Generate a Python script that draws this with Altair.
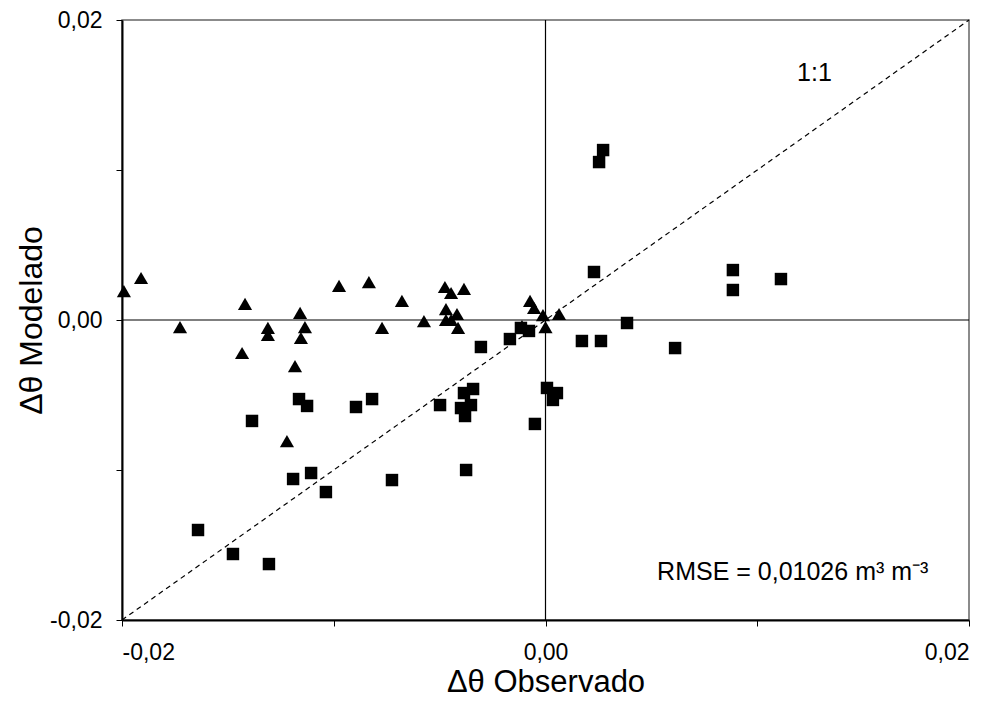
import altair as alt
import pandas as pd

# Triangles series (observed, modelled)
tri_x = [-0.01991, -0.01910, -0.01726, -0.01419, -0.01159, -0.01311, -0.01311, -0.01136,
         -0.01155, -0.01433, -0.01183, -0.01221, -0.00975, -0.00834, -0.00678, -0.00772,
         -0.00574, -0.00475, -0.00446, -0.00385, -0.00470, -0.00470, -0.00446, -0.00418,
         -0.00413, -0.00073, -0.00054, -0.00012, 0.00064, 0.00000, -0.00111]
tri_y = [0.00193, 0.00280, -0.00047, 0.00107, 0.00047, -0.00053, -0.00100, -0.00047,
         -0.00120, -0.00220, -0.00307, -0.00807, 0.00227, 0.00253, 0.00127, -0.00053,
         -0.00007, 0.00220, 0.00180, 0.00207, 0.00073, 0.00000, 0.00000, 0.00040,
         -0.00053, 0.00127, 0.00080, 0.00033, 0.00040, -0.00047, -0.00040]

# Squares series (observed, modelled)
sq_x = [-0.01164, -0.01126, -0.00895, -0.01386, -0.00819, -0.00498, -0.00385, -0.00342,
        -0.00399, -0.00352, -0.00380, -0.00305, -0.00168, -0.00116, -0.00078, 0.00007,
        0.00054, 0.00035, -0.00050, 0.00172, -0.00375, -0.01641, -0.01476, -0.01306,
        -0.01192, -0.01107, -0.01037, 0.00272, 0.00253, 0.00229, 0.00385, 0.00262,
        0.00612, 0.00885, 0.00885, 0.01112, -0.00725]
sq_y = [-0.00527, -0.00573, -0.00580, -0.00673, -0.00527, -0.00567, -0.00487, -0.00460,
        -0.00587, -0.00567, -0.00640, -0.00180, -0.00127, -0.00053, -0.00073, -0.00453,
        -0.00487, -0.00533, -0.00693, -0.00140, -0.01000, -0.01400, -0.01560, -0.01627,
        -0.01060, -0.01020, -0.01147, 0.01133, 0.01053, 0.00320, -0.00020, -0.00140,
        -0.00187, 0.00333, 0.00200, 0.00273, -0.01067]

domain = [-0.02, 0.02]
tick_values = [-0.02, -0.01, 0.0, 0.01, 0.02]
FONT = "Liberation Sans"

tri = pd.DataFrame({"obs": tri_x, "mod": tri_y})
sq = pd.DataFrame({"obs": sq_x, "mod": sq_y})
diag = pd.DataFrame({"obs": domain, "mod": domain})

label_expr = ("abs(round(datum.value*100)) == 1 ? '' : "
              "replace(replace(format(datum.value, '.2f'), '.', ','), '\u2212', '-')")

xs = alt.Scale(domain=domain, nice=False, zero=False)
ys = alt.Scale(domain=domain, nice=False, zero=False)

x_axis = alt.Axis(values=tick_values, labelExpr=label_expr, grid=False,
                  title="Δθ Observado", titleFontSize=31, titleFontWeight="normal",
                  titleY=62, titleBaseline="middle", labelFontSize=23, labelPadding=15,
                  tickSize=6, tickColor="black", domainColor="black", domainWidth=2,
                  labelColor="black", titleColor="black", labelFont=FONT, titleFont=FONT)
y_axis = alt.Axis(values=tick_values, labelExpr=label_expr, grid=False,
                  title="Δθ Modelado", titleFontSize=32, titleFontWeight="normal",
                  titleX=-91, titleY=300, titleBaseline="middle", titleAngle=-90,
                  labelFontSize=23, labelPadding=14,
                  tickSize=6, tickColor="black", domainColor="black", domainWidth=2,
                  labelColor="black", titleColor="black", labelFont=FONT, titleFont=FONT)

base_x = alt.X("obs:Q", scale=xs, axis=x_axis)
base_y = alt.Y("mod:Q", scale=ys, axis=y_axis)

diag_line = alt.Chart(diag).mark_line(color="black", strokeWidth=1.2, strokeDash=[5, 4]).encode(
    x=base_x, y=base_y)

zero_v = alt.Chart(pd.DataFrame({"obs": [0.0]})).mark_rule(color="black", strokeWidth=1.2).encode(
    x=alt.X("obs:Q", scale=xs))
zero_h = alt.Chart(pd.DataFrame({"mod": [0.0]})).mark_rule(color="black", strokeWidth=1.2).encode(
    y=alt.Y("mod:Q", scale=ys))

tri_pts = alt.Chart(tri).mark_point(shape="triangle-up", filled=True, color="black",
                                    size=200, opacity=1).encode(x=base_x, y=base_y)
sq_pts = alt.Chart(sq).mark_point(shape="square", filled=True, color="black",
                                  size=155, opacity=1).encode(x=base_x, y=base_y)

ann = pd.DataFrame({"obs": [0.0127], "mod": [0.0165], "txt": ["1:1"]})
ann_text = alt.Chart(ann).mark_text(font=FONT, fontSize=25, color="black", align="center",
                                    baseline="middle").encode(
    x=alt.X("obs:Q", scale=xs), y=alt.Y("mod:Q", scale=ys), text="txt:N")

rmse = pd.DataFrame({"obs": [0.00527], "mod": [-0.0168], "txt": ["RMSE = 0,01026 m³ m⁻³"]})
rmse_text = alt.Chart(rmse).mark_text(font=FONT, fontSize=25, color="black", align="left",
                                      baseline="middle").encode(
    x=alt.X("obs:Q", scale=xs), y=alt.Y("mod:Q", scale=ys), text="txt:N")

chart = alt.layer(zero_v, zero_h, diag_line, sq_pts, tri_pts, ann_text, rmse_text).properties(
    width=847, height=600,
    autosize=alt.AutoSizeParams(type="none"),
    padding={"left": 114, "top": 12, "right": 14, "bottom": 84},
    background="white",
).configure_view(stroke="#666666", strokeWidth=1.5)

chart.save("out.html", embed_options={"renderer": "svg", "actions": False})
